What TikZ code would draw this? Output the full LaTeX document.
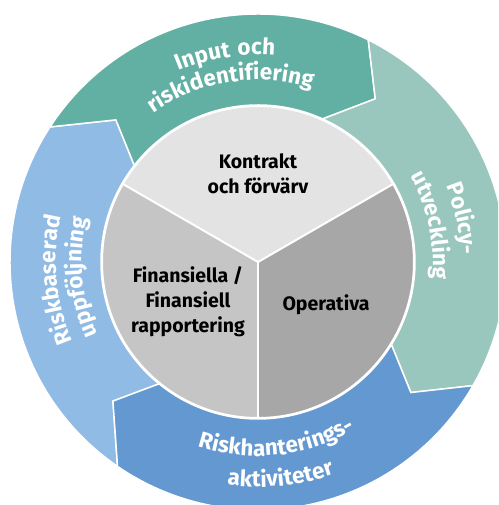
\documentclass[tikz,border=0pt]{standalone}
\usepackage{fontspec}
\setmainfont{Fira Sans}
\newfontfamily\ringfont[LetterSpace=8]{Fira Sans}
\usepackage{tikz}
\usetikzlibrary{decorations.text}
\definecolor{inputgreen}{HTML}{62AFA3}
\definecolor{policygreen}{HTML}{99C7BE}
\definecolor{followblue}{HTML}{90BBE5}
\definecolor{actionblue}{HTML}{6498D0}
\definecolor{sectorlight}{HTML}{E2E3E2}
\definecolor{sectormid}{HTML}{C4C5C4}
\definecolor{sectordark}{HTML}{A6A7A6}
\newcommand*{\outerR}{248}
\newcommand*{\tipR}{201}
\newcommand*{\innerR}{157}
% #1 colour, #2-#4 tail (outer, inner, tip), #5-#7 head (outer, inner, tip)
\newcommand*{\ringpart}[7]{%
  \fill[#1, draw=white, line width=1.5pt]
    (#2:\outerR) arc[start angle=#2, end angle=#5, radius=\outerR]
    -- (#7:\tipR) -- (#6:\innerR)
    arc[start angle=#6, end angle=#3, radius=\innerR]
    -- (#4:\tipR) -- cycle;
}
% #1 start angle, #2 end angle, #3 radius, #4 text
\newcommand*{\ringtext}[4]{%
  \path[decorate, decoration={text along path, text align=center,
        text color=white,
        text={|\ringfont\bfseries\fontsize{22.5}{22.5}\selectfont|#4}}]
    (#1:#3) arc[start angle=#1, end angle=#2, radius=#3];
}

\begin{document}
\begin{tikzpicture}[x=1pt, y=1pt,
    sector label/.style = {align=center, inner sep=0pt,
      font=\bfseries\fontsize{19.5}{25}\selectfont}]
  \useasboundingbox (-258,-243) rectangle (240,262);
  \clip (-258,-243) rectangle (240,262);

  % outer ring
  \ringpart{followblue}{235.5}{230.9}{223.8}{147}{142}{135}
  \ringpart{inputgreen}{147}{142}{135}{63.6}{65.7}{54.3}
  \ringpart{policygreen}{63.6}{65.7}{54.3}{-29.9}{-31.8}{-40.5}
  \ringpart{actionblue}{-29.9}{-31.8}{-40.5}{-124.5}{-129.1}{-136.2}

  \ringtext{159}{39}{207}{Input och}
  \ringtext{159}{39}{182}{riskidentifiering}
  \ringtext{72}{-48}{203}{Policy-}
  \ringtext{72}{-48}{175}{utveckling}
  \ringtext{-144}{-24}{194}{Riskhanterings-}
  \ringtext{-144}{-24}{225}{aktiviteter}
  \ringtext{245}{125}{202}{Riskbaserad}
  \ringtext{245}{125}{176}{uppföljning}

  % inner circle
  \fill[sectorlight] (0,0) -- (30:156) arc[start angle=30, end angle=150, radius=156] -- cycle;
  \fill[sectormid] (0,0) -- (150:156) arc[start angle=150, end angle=270, radius=156] -- cycle;
  \fill[sectordark] (0,0) -- (270:156) arc[start angle=270, end angle=390, radius=156] -- cycle;
  \draw[white, line width=2pt] (0,0) circle[radius=156];
  \foreach \a in {30,150,270}
    \draw[white, line width=2pt] (0,0) -- (\a:156);

  \node[sector label] (kontrakt) at (0,88) {Kontrakt\\och förvärv};
  \node[sector label] (finansiella) at (-70,-40) {Finansiella /\\Finansiell\\rapportering};
  \node[sector label] (operativa) at (68,-43) {Operativa};
\end{tikzpicture}
\end{document}
